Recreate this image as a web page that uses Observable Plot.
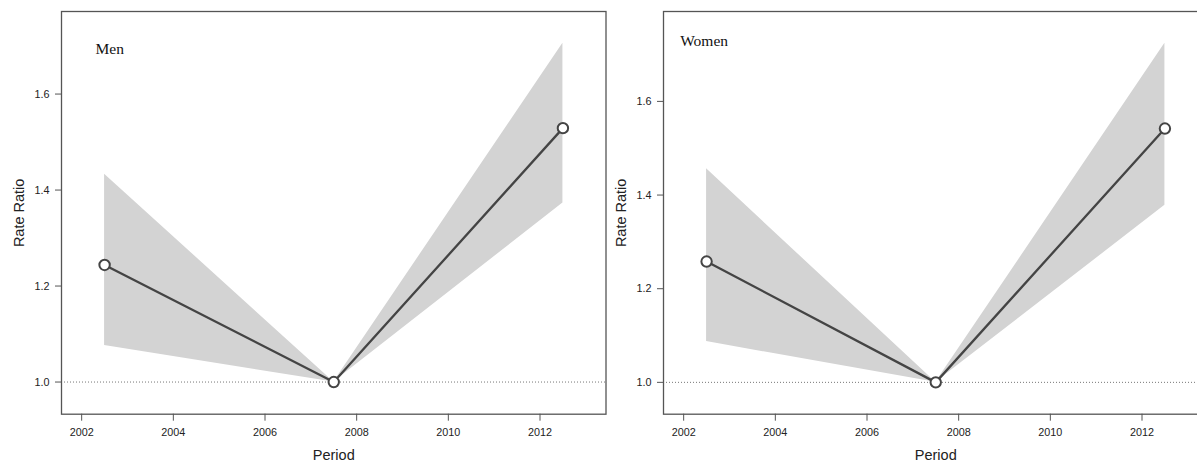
<!DOCTYPE html>
<html>
<head>
<meta charset="utf-8">
<script src="https://cdn.jsdelivr.net/npm/d3@7"></script>
<script src="https://cdn.jsdelivr.net/npm/@observablehq/plot@0.6"></script>
<style>
  html, body { margin: 0; padding: 0; background: #fff; }
  #wrap { position: relative; width: 1197px; height: 462px; overflow: hidden; background: #fff; }
  #wrap > div { position: absolute; top: 0; width: 607px; height: 462px; }
  #wrap svg { max-width: none !important; background: transparent !important; }
</style>
</head>
<body>
<div id="wrap"><div id="men"></div><div id="women"></div></div>
<script>
const periods = [2002.5, 2007.5, 2012.5];
const menRR = [1.244, 1.0, 1.529];
const menLower = [1.076, 1.0, 1.373];
const menUpper = [1.433, 1.0, 1.706];
const womenRR = [1.258, 1.0, 1.542];
const womenLower = [1.087, 1.0, 1.378];
const womenUpper = [1.456, 1.0, 1.724];
const xTicks = [2002, 2004, 2006, 2008, 2010, 2012];
const yTicks = [1.0, 1.2, 1.4, 1.6];
const xDomain = [2001.56, 2013.44];
const menYDomain = [0.933, 1.772];
const womenYDomain = [0.932, 1.792];
const panelNames = ["Men", "Women"];
const xLabel = "Period";
const yLabel = "Rate Ratio";

function panel(name, rr, lo, hi, yDomain, labelDx, labelDy) {
  const data = periods.map((p, i) => ({period: p, rr: rr[i], lo: lo[i], hi: hi[i]}));
  return Plot.plot({
    width: 607,
    height: 462,
    marginLeft: 61,
    marginRight: 1.5,
    marginTop: 11,
    marginBottom: 48.3,
    style: {fontFamily: "'Liberation Sans', Arial, sans-serif", fontSize: "10.8px", color: "#222", background: "transparent", maxWidth: "none"},
    x: {domain: xDomain},
    y: {domain: yDomain},
    marks: [
      Plot.areaY(data, {x: "period", y1: "lo", y2: "hi", fill: "#d3d3d3"}),
      Plot.ruleY([1], {stroke: "#777", strokeWidth: 1, strokeDasharray: "1,2"}),
      Plot.line(data, {x: "period", y: "rr", stroke: "#444", strokeWidth: 2.3}),
      Plot.dot(data, {x: "period", y: "rr", r: 5.2, fill: "#fff", stroke: "#444", strokeWidth: 2}),
      Plot.frame({stroke: "#555", strokeWidth: 1.3}),
      Plot.axisX({ticks: xTicks, tickFormat: d3.format("d"), tickSize: 7, tickPadding: 7, label: null, stroke: "#555"}),
      Plot.axisY({ticks: yTicks, tickFormat: d3.format(".1f"), tickSize: 6, tickPadding: 6, label: null, stroke: "#555"}),
      Plot.text([xLabel], {text: d => d, frameAnchor: "bottom", textAnchor: "middle", lineAnchor: "bottom", dy: 45.3, fontSize: 14.5, fill: "#222"}),
      Plot.text([yLabel], {text: d => d, frameAnchor: "left", textAnchor: "middle", lineAnchor: "bottom", rotate: -90, dx: -38, fontSize: 14.5, fill: "#222"}),
      Plot.text([name], {text: d => d, frameAnchor: "top-left", textAnchor: "start", lineAnchor: "bottom", dx: labelDx, dy: labelDy, fontFamily: "'Liberation Serif', 'Times New Roman', serif", fontSize: 15.5, fill: "#111"})
    ]
  });
}

const m = panel(panelNames[0], menRR, menLower, menUpper, menYDomain, 34, 42.3);
const w = panel(panelNames[1], womenRR, womenLower, womenUpper, womenYDomain, 16.7, 34.7);
const menDiv = document.getElementById("men");
const womenDiv = document.getElementById("women");
menDiv.style.left = "0px";
womenDiv.style.left = "602.3px";
menDiv.appendChild(m);
womenDiv.appendChild(w);
</script>
</body>
</html>
